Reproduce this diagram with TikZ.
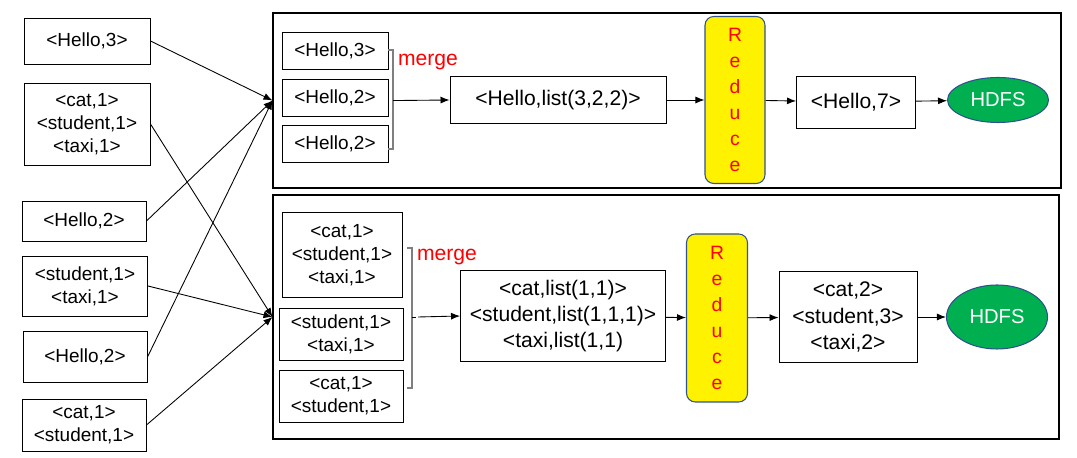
\documentclass[tikz,border=0pt]{standalone}
\usepackage{fontspec}
\setmainfont{Liberation Sans}
\usetikzlibrary{arrows.meta}
\usetikzlibrary{shapes.geometric}
\definecolor{edgeblue}{HTML}{2F528F}
\definecolor{hgreen}{HTML}{00B050}
\definecolor{brkgray}{HTML}{7F7F7F}
\tikzset{
	kv/.style={rectangle, draw=black, line width=0.55pt, inner sep=0pt, align=center, font=\fontsize{10.8}{13.2}\selectfont},
	kvt/.style={kv, minimum width=2.12cm, minimum height=0.74cm},
	kvb/.style={kv, font=\fontsize{12}{14.8}\selectfont},
	frm/.style={rectangle, draw=black, line width=0.6pt, inner sep=0pt},
	redu/.style={rectangle, rounded corners=5pt, draw=edgeblue, fill=yellow, line width=0.6pt, text=red, align=center, font=\fontsize{11}{14.8}\selectfont},
	hdfs/.style={ellipse, draw=edgeblue, fill=hgreen, line width=0.6pt, text=white, inner sep=0pt, font=\fontsize{11.5}{13}\selectfont},
	brk/.style={draw=brkgray, line width=0.8pt},
	mrg/.style={text=red, font=\fontsize{12}{14}\selectfont},
	arrow/.style={line width=0.5pt,-{Latex[length=1.8mm,width=1.4mm]}},
}

\begin{document}
\begin{tikzpicture}
\useasboundingbox (0,0) rectangle (21.54,9.16);

% map outputs
\node [kv, minimum width=2.52cm, minimum height=0.92cm] (L1) at (1.74,8.34) {<Hello,3>};
\node [kv, minimum width=2.52cm, minimum height=1.64cm] (L2) at (1.74,6.68) {<cat,1>\\<student,1>\\<taxi,1>};
\node [kv, minimum width=2.48cm, minimum height=0.80cm] (L3) at (1.68,4.74) {<Hello,2>};
\node [kv, minimum width=2.50cm, minimum height=1.20cm] (L4) at (1.70,3.44) {<student,1>\\<taxi,1>};
\node [kv, minimum width=2.48cm, minimum height=1.02cm] (L5) at (1.70,2.02) {<Hello,2>};
\node [kv, minimum width=2.48cm, minimum height=1.04cm] (L6) at (1.68,0.66) {<cat,1>\\<student,1>};

% reduce frames
\node [frm, minimum width=15.76cm, minimum height=3.50cm] (f1) at (13.34,7.15) {};
\node [frm, minimum width=15.72cm, minimum height=4.88cm] (f2) at (13.32,2.82) {};

% shuffle
\draw [arrow] (L1.east) -- (f1.west);
\draw [arrow] (L3.east) -- (f1.west);
\draw [arrow] (L5.east) -- (f1.west);
\draw [arrow] (L2.east) -- (f2.west);
\draw [arrow] (L4.east) -- (f2.west);
\draw [arrow] (L6.east) -- (f2.west);

% top reducer
\node [kvt] (T1) at (6.70,8.14) {<Hello,3>};
\node [kvt] (T2) at (6.70,7.20) {<Hello,2>};
\node [kvt] (T3) at (6.70,6.28) {<Hello,2>};
\draw [brk] (7.76,8.16) -- (7.86,8.16) -- (7.86,6.18) -- (7.76,6.18);
\draw (7.86,7.15) -- (7.98,7.15);
\coordinate (m1) at (7.98,7.15);
\node [mrg] at (8.56,7.92) {merge};
\node [kvb, minimum width=4.32cm, minimum height=0.94cm] (T4) at (11.16,7.16) {<Hello,list(3,2,2)>};
\node [redu, minimum width=1.20cm, minimum height=3.34cm] (R1) at (14.70,7.16) {R\\e\\d\\u\\c\\e};
\node [kvb, minimum width=2.38cm, minimum height=1.04cm] (T5) at (17.12,7.12) {<Hello,7>};
\node [hdfs, minimum width=2.02cm, minimum height=0.90cm] (H1) at (19.96,7.16) {HDFS};
\draw [arrow] (m1) -- (T4.west);
\draw [arrow] (T4) -- (R1);
\draw [arrow] (R1) -- (T5);
\draw [arrow] (T5) -- (H1);

% bottom reducer
\node [kv, minimum width=2.40cm, minimum height=1.70cm] (B1) at (6.84,4.06) {<cat,1>\\<student,1>\\<taxi,1>};
\node [kv, minimum width=2.48cm, minimum height=1.04cm] (B2) at (6.82,2.48) {<student,1>\\<taxi,1>};
\node [kv, minimum width=2.48cm, minimum height=1.04cm] (B3) at (6.82,1.24) {<cat,1>\\<student,1>};
\draw [brk] (8.14,4.20) -- (8.24,4.20) -- (8.24,1.40) -- (8.14,1.40);
\draw (8.24,2.82) -- (8.32,2.82);
\coordinate (m2) at (8.36,2.82);
\node [mrg] at (8.94,4.02) {merge};
\node [kvb, minimum width=4.10cm, minimum height=1.82cm] (B4) at (11.26,2.84) {<cat,list(1,1)>\\<student,list(1,1,1)>\\<taxi,list(1,1)};
\node [redu, minimum width=1.22cm, minimum height=3.36cm] (R2) at (14.34,2.80) {R\\e\\d\\u\\c\\e};
\node [kvb, minimum width=2.76cm, minimum height=1.82cm] (B5) at (16.96,2.82) {<cat,2>\\<student,3>\\<taxi,2>};
\node [hdfs, minimum width=2.02cm, minimum height=1.28cm] (H2) at (19.94,2.82) {HDFS};
\draw [arrow] (m2) -- (B4.west);
\draw [arrow] (B4) -- (R2);
\draw [arrow] (R2) -- (B5);
\draw [arrow] (B5) -- (H2);
\end{tikzpicture}
\end{document}
